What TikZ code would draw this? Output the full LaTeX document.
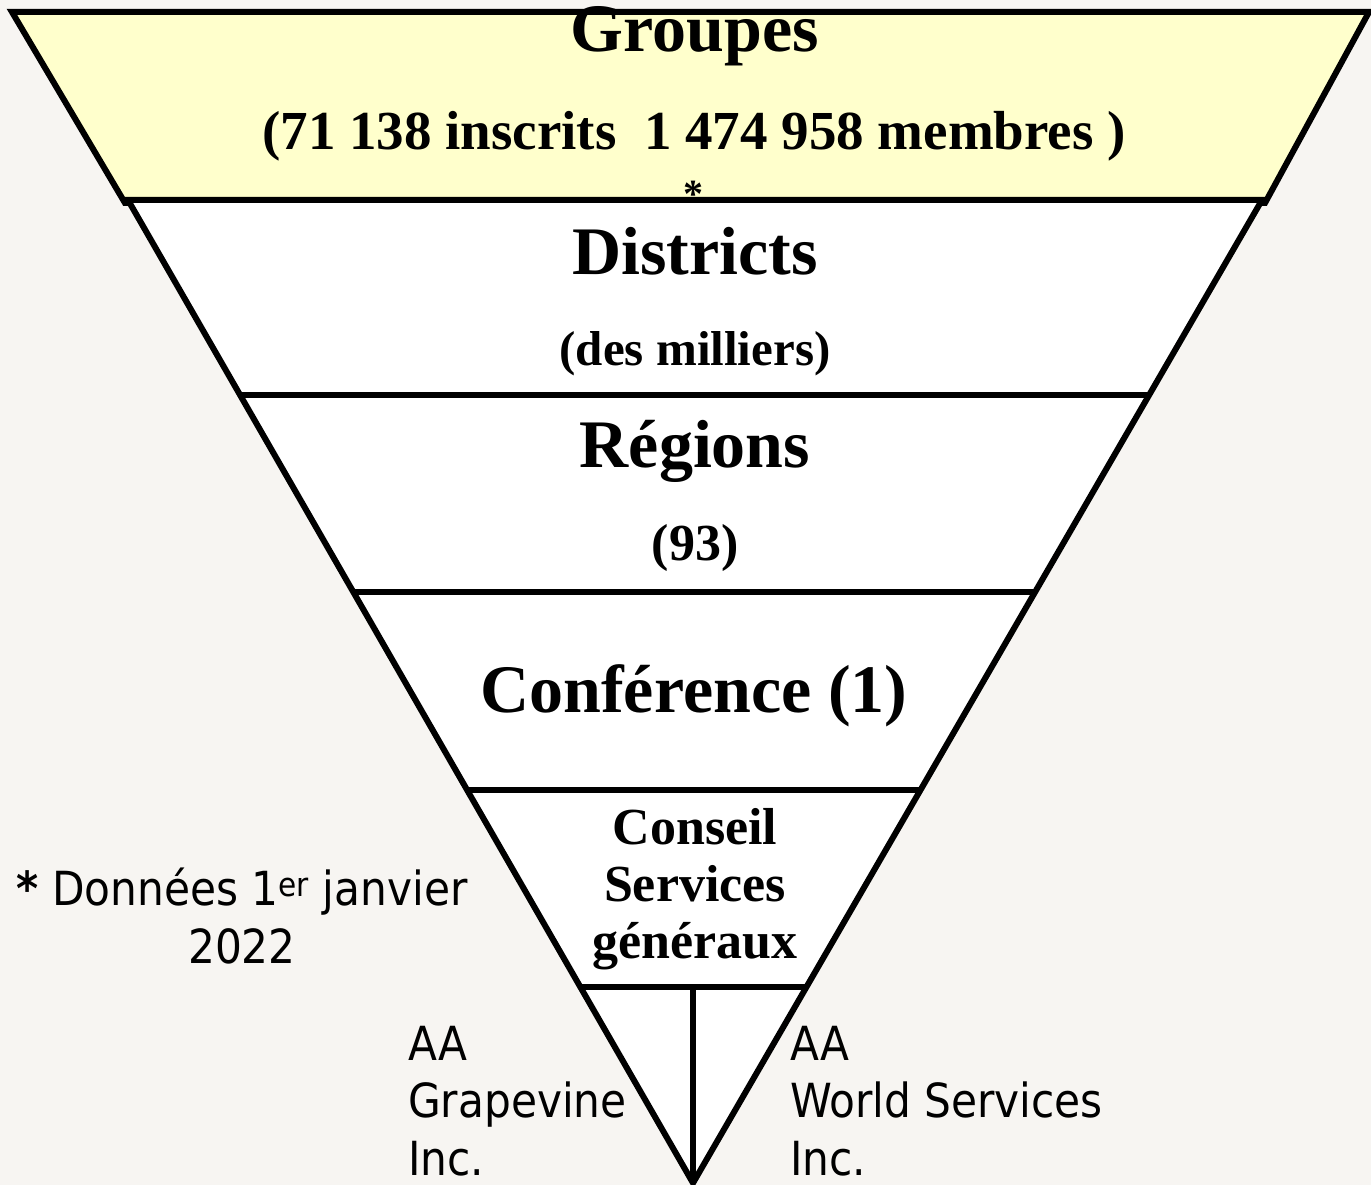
\documentclass[tikz,border=0pt]{standalone}
\usepackage{fontspec}
\setmainfont{Liberation Serif}
\newfontfamily\notefont{DejaVu Sans Condensed}
\usetikzlibrary{positioning}
\definecolor{paper}{HTML}{F7F5F2}
\definecolor{groupyellow}{HTML}{FFFFCC}

\begin{document}
\begin{tikzpicture}[
x=1pt, y=-1pt,
band/.style={
	draw,
	line width=6pt,
	line join=miter
},
level/.style={
	anchor=base,
	inner sep=0pt,
	font=\fontsize{68}{72}\selectfont\bfseries
},
count/.style={
	anchor=base,
	inner sep=0pt,
	font=\fontsize{52}{57}\selectfont\bfseries
},
note/.style={
	anchor=base west,
	inner sep=0pt,
	align=left,
	font=\notefont\fontsize{47}{57.5}\selectfont
}
]

% Background
\fill[paper] (0,0) rectangle (1371,1185);
\useasboundingbox (0,0) rectangle (1371,1185);

% Bands
\draw[band, fill=groupyellow] (12,12) -- (1369,12) -- (1265,203) -- (125,203) -- cycle;
\draw[band, fill=white] (128,200) -- (1262,200) -- (693,1183) -- cycle;
\foreach \y/\xl/\xr in {395/240/1149, 592/353/1035, 790/467/921, 987/580/807}
	\draw[band] (\xl,\y) -- (\xr,\y);
\draw[band] (693,987) -- (693,1183);

% Nodes
\node[level] (groupes) at (695,52) {Groupes};
\node[count, font=\fontsize{55}{60}\selectfont\bfseries] (inscrits) at (694,150) {(71 138 inscrits\ \ 1 474 958 membres )};
\node[count, font=\fontsize{40}{40}\selectfont\bfseries] (star) at (693,208) {*};
\node[level] (districts) at (695,275) {Districts};
\node[count, font=\fontsize{49}{54}\selectfont\bfseries] (milliers) at (695,365) {(des milliers)};
\node[level] (regions) at (695,467) {Régions};
\node[count] (nbregions) at (695,560) {(93)};
\node[level] (conference) at (694,712) {Conférence (1)};
\node[count, align=center] (conseil) at (695,958) {Conseil\\Services\\généraux};

\node[note, anchor=base, align=center] (donnees) at (242,963) {\textbf{*} Données 1\textsuperscript{er} janvier\\2022};
\node[note] (grapevine) at (408,1175) {AA\\Grapevine\\Inc.};
\node[note] (aaws) at (790,1175) {AA\\World Services\\Inc.};

\end{tikzpicture}
\end{document}
